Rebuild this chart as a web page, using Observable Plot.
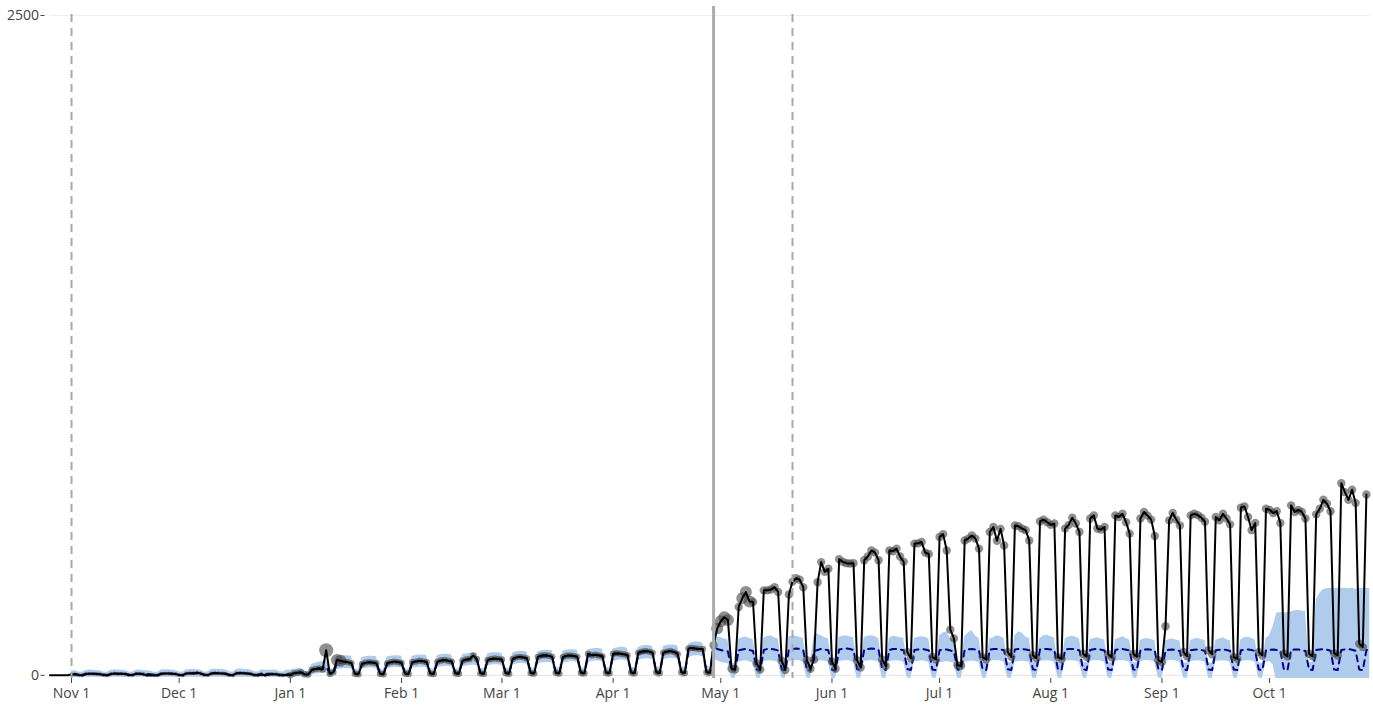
<!DOCTYPE html>
<html>
<head>
<meta charset="utf-8">
<script src="https://cdn.jsdelivr.net/npm/d3@7"></script>
<script src="https://cdn.jsdelivr.net/npm/@observablehq/plot@0.6"></script>
<style>
  html, body { margin: 0; padding: 0; background: #fff; overflow: hidden; }
</style>
</head>
<body>
<div id="chart"></div>
<script>
// ---- dates ----
const startDate = "2018-10-26";   // first daily value (Fri)
const endDate = "2019-10-29";     // last forecast day
const bandStart = "2018-11-01";
const dashedEventDates = ["2018-11-01", "2019-05-21"];
const interventionDate = "2019-04-29";
const tickMonths = ["2018-11-01","2018-12-01","2019-01-01","2019-02-01","2019-03-01","2019-04-01",
                    "2019-05-01","2019-06-01","2019-07-01","2019-08-01","2019-09-01","2019-10-01"];
const yTicks = [0, 2500];
const emphasisDates = ["2019-01-11","2019-01-14","2019-01-15","2019-04-30","2019-05-01","2019-05-02",
                       "2019-05-03","2019-05-07","2019-05-08","2019-05-09"];

// ---- observed daily values (first row Fri-Sun, then weeks Mon..Sun) ----
const actual = [
  0,0,0,
  0,0,0,3,4,1,0,
  5,6,6,5,4,1,0,
  5,7,6,6,5,1,1,
  6,6,4,0,1,0,0,
  6,7,7,6,5,1,0,
  7,8,8,10,7,2,1,
  7,9,8,7,6,1,0,
  8,9,8,7,5,1,0,
  3,0,3,4,4,1,0,
  2,0,8,10,12,4,3,
  20,24,26,22,95,6,12,
  58,55,52,50,46,6,4,
  42,48,50,48,46,6,4,
  45,50,52,50,47,7,5,
  50,52,55,53,50,7,5,
  52,56,58,55,52,8,6,
  55,60,62,75,62,8,6,
  58,62,64,62,60,9,6,
  62,68,70,68,64,9,7,
  70,75,76,74,70,10,7,
  70,74,75,73,70,10,8,
  82,76,78,75,72,10,8,
  82,84,82,80,76,11,8,
  86,90,92,90,86,12,9,
  86,90,92,88,80,12,9,
  102,104,102,100,100,12,10,
  114,177,205,220,210,25,22,
  259,292,316,280,278,45,22,
  322,322,325,334,316,55,20,
  306,355,368,362,334,57,25,
  60,353,429,392,404,52,25,
  440,430,425,424,425,57,30,
  436,450,473,465,436,60,35,
  473,470,480,450,430,88,65,
  499,500,505,465,460,70,60,
  524,535,473,173,140,38,36,
  511,518,530,518,480,69,60,
  543,562,510,555,492,88,70,
  568,565,556,550,511,76,65,
  583,590,580,570,575,69,62,
  556,570,597,575,543,82,70,
  594,606,556,552,562,80,68,
  606,600,612,580,537,82,70,
  594,619,605,590,528,57,50,
  186,587,615,590,568,88,72,
  606,612,607,597,582,95,80,
  600,587,612,594,572,69,62,
  635,640,600,550,577,88,75,
  631,627,615,622,577,82,72,
  644,619,627,619,594,82,72,
  610,631,665,650,622,84,75,
  728,694,665,703,653,120,107,
  685
];

// ---- predicted mean ----
const pred = [
  null,null,null,
  null,null,null,4,5,2,1,
  5,6,6,6,5,2,1,
  6,6,6,6,5,2,1,
  6,6,6,5,4,2,1,
  6,7,7,6,5,2,1,
  7,7,7,7,6,2,1,
  7,8,8,7,6,2,2,
  7,8,8,7,6,2,2,
  7,6,6,6,6,2,2,
  6,6,8,9,10,3,3,
  22,25,28,30,32,8,6,
  45,48,50,50,48,8,6,
  46,48,50,50,48,8,6,
  48,50,52,52,50,8,6,
  50,52,54,54,52,9,7,
  52,55,57,57,54,9,7,
  55,58,60,62,60,9,7,
  58,62,63,63,60,10,7,
  62,66,68,68,65,10,8,
  66,70,72,72,70,11,8,
  68,72,74,74,72,11,8,
  72,76,78,78,75,11,9,
  76,80,82,82,78,12,9,
  80,86,88,88,84,12,9,
  84,88,90,90,86,13,10,
  92,98,100,100,96,14,10,
  108,100,96,92,90,20,18,
  95,98,100,96,92,22,18,
  96,100,100,98,94,22,18,
  98,100,102,100,95,22,18,
  92,96,100,98,95,22,18,
  98,100,102,100,96,24,20,
  98,100,102,100,96,24,20,
  96,100,100,98,95,24,20,
  96,98,100,98,94,22,20,
  95,98,98,94,90,22,20,
  96,99,100,98,94,22,20,
  97,100,100,98,95,23,20,
  98,100,100,98,95,23,20,
  98,100,100,98,95,23,20,
  97,100,100,98,94,23,20,
  96,99,100,97,94,22,20,
  96,99,100,97,94,22,20,
  95,98,99,97,93,22,20,
  94,97,98,96,92,22,20,
  95,97,98,96,92,22,20,
  95,97,98,96,92,22,20,
  95,97,98,96,92,22,20,
  95,97,98,96,92,22,20,
  96,98,98,96,92,22,20,
  96,98,99,97,93,22,20,
  96,98,99,97,93,22,20,
  96,98
];

// ---- prediction interval, upper ----
const upper = [
  null,null,null,
  null,null,null,16,18,13,12,
  18,20,19,18,17,12,12,
  19,20,20,19,18,13,12,
  19,20,18,17,16,12,12,
  20,21,21,20,18,13,12,
  21,22,22,21,19,13,13,
  22,23,23,22,20,14,13,
  22,24,23,22,20,14,13,
  21,19,19,20,20,14,13,
  20,19,24,25,27,15,14,
  42,46,50,52,55,25,22,
  68,72,74,74,72,24,22,
  68,70,72,72,70,24,22,
  70,72,74,74,72,25,22,
  72,75,77,77,75,26,23,
  75,78,80,80,77,26,24,
  78,81,83,86,83,27,24,
  81,85,86,86,83,28,25,
  85,89,91,91,88,29,26,
  89,93,95,95,93,30,26,
  91,95,97,97,95,30,27,
  96,100,102,102,99,31,28,
  100,104,106,106,102,32,28,
  105,111,113,113,109,33,29,
  109,113,115,115,111,34,30,
  118,124,126,126,122,35,30,
  150,145,142,138,135,48,45,
  138,142,145,140,136,50,46,
  140,148,150,142,138,50,46,
  145,150,148,144,140,52,46,
  150,158,150,142,140,50,46,
  145,148,150,146,142,52,48,
  142,148,150,146,140,52,48,
  140,148,146,142,140,52,48,
  140,144,146,144,138,50,48,
  150,160,165,140,135,50,48,
  145,160,170,150,140,50,48,
  138,142,150,146,140,50,48,
  150,165,160,145,140,50,48,
  140,150,152,146,142,50,48,
  138,145,148,144,138,50,48,
  135,140,142,138,134,50,48,
  135,140,146,140,134,50,48,
  132,138,140,136,132,48,46,
  130,136,138,134,130,48,46,
  132,138,140,136,132,48,46,
  132,138,142,136,130,48,46,
  135,142,144,140,134,48,46,
  140,150,185,235,238,236,238,
  240,245,246,244,242,50,48,
  285,310,325,328,330,328,330,
  330,330,328,330,326,328,330,
  330,328
];

// ---- prediction interval, lower ----
const lower = [
  null,null,null,
  null,null,null,-8,-8,-9,-9,
  -7,-7,-7,-7,-8,-9,-9,
  -7,-7,-7,-7,-8,-9,-9,
  -7,-7,-7,-7,-8,-9,-9,
  -7,-7,-7,-7,-8,-9,-9,
  -7,-7,-7,-7,-8,-9,-9,
  -7,-7,-7,-7,-8,-9,-9,
  -7,-7,-7,-7,-8,-9,-9,
  -7,-7,-7,-7,-8,-9,-9,
  -8,-9,-7,-6,-5,-9,-9,
  2,4,6,8,10,-8,-8,
  22,24,26,26,24,-8,-9,
  24,26,28,28,26,-8,-9,
  26,28,30,30,28,-8,-9,
  28,29,31,31,29,-8,-9,
  29,32,34,34,31,-8,-9,
  32,35,37,38,37,-8,-9,
  35,39,40,40,37,-8,-9,
  39,43,45,45,42,-7,-9,
  43,47,49,49,47,-7,-9,
  45,49,51,51,49,-7,-9,
  48,52,54,54,51,-7,-9,
  52,56,58,58,54,-7,-9,
  55,61,63,63,59,-7,-9,
  59,63,65,65,61,-7,-9,
  66,72,74,74,70,-7,-9,
  62,55,50,46,45,-10,-12,
  50,53,55,51,47,-10,-12,
  51,54,55,53,49,-10,-12,
  52,55,56,55,50,-10,-12,
  47,51,55,53,50,-10,-12,
  52,54,56,54,50,-10,-12,
  53,54,56,54,51,-10,-12,
  51,54,55,53,50,-10,-12,
  51,53,55,53,49,-10,-12,
  48,50,52,50,47,-10,-12,
  50,52,54,52,49,-10,-12,
  52,55,56,54,50,-10,-12,
  50,52,53,52,50,-10,-12,
  52,54,55,54,50,-10,-12,
  52,55,55,54,50,-10,-12,
  53,55,56,54,50,-10,-12,
  52,55,56,54,50,-10,-12,
  52,55,56,54,50,-10,-12,
  52,55,56,54,50,-10,-12,
  52,54,55,54,50,-10,-12,
  52,54,55,54,50,-10,-12,
  52,54,55,54,50,-10,-12,
  50,52,40,-30,-30,-30,-30,
  -30,-30,-30,-30,-30,-30,-30,
  -30,-30,-30,-30,-30,-30,-30,
  -30,-30,-30,-30,-30,-30,-30,
  -30,-30
];

// ---- build table ----
const parse = d3.utcParse("%Y-%m-%d");
const t0 = parse(startDate);
const tBand = parse(bandStart);
const tJan = parse("2019-01-01");
const tInt = parse(interventionDate);
const emph = new Set(emphasisDates);
const fmt = d3.utcFormat("%Y-%m-%d");
const rows = d3.range(pred.length).map(i => ({
  date: d3.utcDay.offset(t0, i),
  actual: i < actual.length ? actual[i] : null,
  pred: pred[i], lower: lower[i], upper: upper[i]
}));
const bandRows = rows.filter(d => d.upper != null);
const actualRows = rows.filter(d => d.actual != null);
const dotRows = actualRows.filter(d => d.date >= tBand);
const radius = d => emph.has(fmt(d.date)) ? (fmt(d.date) === "2019-01-11" ? 7 : 6)
                   : d.date < tJan ? 2 : d.date < tInt ? 3.2 : 4.2;

const chart = Plot.plot({
  width: 1373,
  height: 708,
  marginLeft: 49.5,
  marginRight: 3.5,
  marginTop: 15,
  marginBottom: 30,
  style: { fontFamily: '"Open Sans", "DejaVu Sans", sans-serif', fontSize: "14px", color: "#444", background: "#fff", overflow: "visible" },
  x: { type: "utc", domain: [parse(startDate), parse(endDate)] },
  y: { domain: [-12, 2500] },
  r: { type: "identity" },
  marks: [
    Plot.ruleY([2500], { stroke: "#eeeeee", strokeWidth: 1 }),
    Plot.ruleY([0], { stroke: "#e4e4e4", strokeWidth: 1 }),
    Plot.areaY(bandRows, { x: "date", y1: "lower", y2: "upper", fill: "#b0cced", clip: true }),
    Plot.lineY(bandRows, { x: "date", y: "pred", stroke: "#00008b", strokeWidth: 2, strokeDasharray: "6,5" }),
    Plot.dot(dotRows, { x: "date", y: "actual", r: radius, fill: "#444", fillOpacity: 0.6, stroke: "none" }),
    Plot.lineY(actualRows, { x: "date", y: "actual", stroke: "#000", strokeWidth: 2 }),
    Plot.ruleX(dashedEventDates.map(parse), { stroke: "#a8a8a8", strokeWidth: 2, strokeDasharray: "8,6", insetTop: -1 }),
    Plot.ruleX([tInt], { stroke: "#ababab", strokeWidth: 3, insetTop: -9 }),
    Plot.axisY({ ticks: yTicks, tickSize: 4, dx: -5, tickPadding: 2, label: null, fontSize: 14, tickFormat: d => String(d) }),
    Plot.axisX({ ticks: tickMonths.map(parse), tickFormat: d3.utcFormat("%b %-d"), tickSize: 5, tickPadding: 5, fontSize: 14, label: null })
  ]
});
document.getElementById("chart").appendChild(chart);
</script>
</body>
</html>
